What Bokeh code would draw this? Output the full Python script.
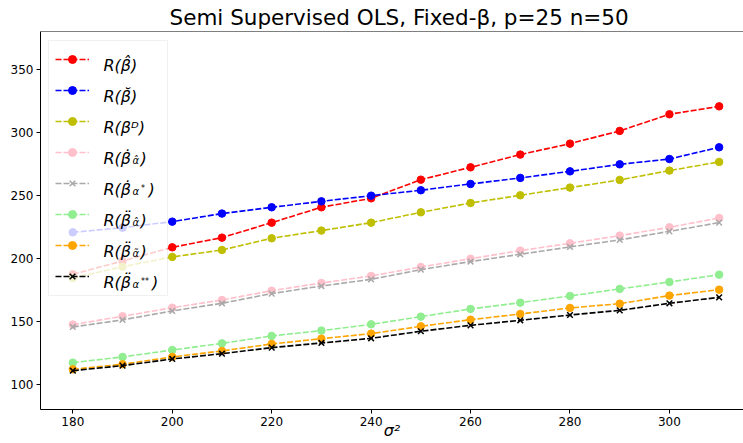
from bokeh.plotting import figure
from bokeh.models import Range1d, FixedTicker, Legend, LegendItem, Label, BoxAnnotation, Span
from bokeh.embed import file_html
from bokeh.resources import INLINE

# ---------------- data ----------------
sigma2 = [180, 190, 200, 210, 220, 230, 240, 250, 260, 270, 280, 290, 300, 310]

r_hat = [187.3, 197.9, 208.7, 216.4, 228.3, 240.5, 247.6, 262.4, 272.2, 282.3, 291.0, 301.1, 314.3, 320.6]
r_breve = [220.6, 224.3, 229.1, 235.5, 240.5, 245.2, 249.7, 254.0, 259.0, 263.8, 269.0, 274.6, 278.8, 288.1]
r_D = [184.4, 193.3, 201.1, 206.6, 215.9, 222.0, 228.3, 236.5, 243.9, 250.0, 256.1, 262.2, 269.6, 276.5]
r_dot_hat = [147.4, 154.0, 160.8, 166.9, 174.3, 180.4, 186.0, 193.1, 199.7, 206.1, 211.9, 218.0, 224.6, 232.0]
r_dot_star = [145.5, 151.1, 158.2, 164.3, 172.0, 178.0, 183.3, 191.0, 197.4, 203.2, 209.0, 214.6, 221.4, 228.3]
r_ddot_hat = [117.2, 121.7, 127.2, 132.5, 138.4, 142.6, 147.6, 153.7, 159.8, 164.8, 170.1, 175.7, 181.2, 187.0]
r_ddot_tilde = [111.9, 115.9, 121.7, 126.5, 132.0, 136.2, 140.2, 146.0, 151.3, 155.8, 160.6, 164.0, 170.4, 175.1]
r_ddot_star2 = [110.8, 114.8, 120.1, 124.3, 129.1, 132.8, 136.5, 142.1, 146.8, 150.8, 155.0, 158.7, 164.3, 169.0]

series_values = [r_hat, r_breve, r_D, r_dot_hat, r_dot_star, r_ddot_hat, r_ddot_tilde, r_ddot_star2]
series_colors = ["red", "blue", "#bfbf00", "pink", "darkgray", "lightgreen", "orange", "black"]
series_markers = ["circle", "circle", "circle", "circle", "x", "circle", "circle", "x"]

# legend labels: main part, subscript, superscript-on-subscript
legend_main = ["R(\u03b2\u0302)", "R(\u03b2\u0306)", "R(\u03b2\u1d30)",
               "R(\u03b2\u0307", "R(\u03b2\u0307", "R(\u03b2\u0308", "R(\u03b2\u0308", "R(\u03b2\u0308"]
legend_sub = ["", "", "", "\u03b1\u0302", "\u03b1", "\u03b1\u0302", "\u03b1\u0303", "\u03b1"]
legend_sup = ["", "", "", "", "*", "", "", "**"]

x_ticks = [180, 200, 220, 240, 260, 280, 300]
y_ticks = [100, 150, 200, 250, 300, 350]
y_top = 380

title_text = "Semi Supervised OLS, Fixed-\u03b2, p=25 n=50"
xlabel_text = "\u03c3\u00b2"

FONT = "DejaVu Sans"

# ---------------- figure ----------------
p = figure(width=743, height=443, output_backend="svg", toolbar_location=None,
           x_range=Range1d(173.5, 314.9), y_range=Range1d(80, y_top),
           min_border_left=40, min_border_right=0, min_border_top=31, min_border_bottom=34,
           title=title_text)
p.title.text_font = FONT
p.title.text_font_size = "21.5px"
p.title.text_font_style = "normal"
p.title.text_color = "black"
p.title.align = "left"
p.title.offset = 129
p.title.standoff = 4
p.background_fill_color = "white"
p.border_fill_color = "white"
p.outline_line_color = None
p.grid.visible = False

for ax in (p.xaxis[0], p.yaxis[0]):
    ax.axis_line_color = "black"
    ax.axis_line_width = 1
    ax.major_tick_line_color = "black"
    ax.major_tick_out = 4
    ax.major_tick_in = 0
    ax.minor_tick_line_color = None
    ax.major_label_text_font = FONT
    ax.major_label_text_font_size = "12px"
    ax.major_label_text_color = "black"
    ax.major_label_standoff = 3
p.xaxis[0].ticker = FixedTicker(ticks=x_ticks)
p.yaxis[0].ticker = FixedTicker(ticks=y_ticks)
p.xaxis[0].axis_label = xlabel_text
p.xaxis[0].axis_label_text_font = FONT
p.xaxis[0].axis_label_text_font_style = "italic"
p.xaxis[0].axis_label_text_font_size = "16px"
p.xaxis[0].axis_label_text_color = "black"
p.xaxis[0].axis_label_standoff = -8

# top spine (no right spine in the reference)
p.add_layout(Span(location=y_top, dimension="width", line_color="black", line_width=1.2))

items = []
for vals, col, mk in zip(series_values, series_colors, series_markers):
    lr = p.line(sigma2, vals, line_color=col, line_width=1.6, line_dash="6 2")
    if mk == "x":
        sr = p.scatter(sigma2, vals, marker="x", size=8, line_color=col, line_width=1.5)
    else:
        sr = p.scatter(sigma2, vals, marker="circle", size=7.5, fill_color=col, line_color=col)
    items.append(LegendItem(label=" ", renderers=[lr, sr]))

# legend frame drawn as a box so that the texts can sit on top of it
p.add_layout(BoxAnnotation(left=8, right=127, top=369, bottom=114,
                           left_units="screen", right_units="screen",
                           top_units="screen", bottom_units="screen",
                           fill_color="white", fill_alpha=0.8,
                           line_color="#cccccc", line_width=1, level="annotation"))

legend = Legend(items=items, location=(15, 123), margin=0, padding=0, spacing=11,
                label_height=20, glyph_height=20, glyph_width=34, label_standoff=12,
                label_width=53, label_text_font_size="13px",
                border_line_color=None, background_fill_alpha=0.0)
p.add_layout(legend)


def add_label(x, y, text, size, italic=True, align="left"):
    p.add_layout(Label(x=x, y=y, x_units="screen", y_units="screen", text=text,
                       text_font=FONT, text_font_style="italic" if italic else "normal",
                       text_font_size=size, text_baseline="alphabetic", text_align=align,
                       text_color="black", level="overlay"))


for i in range(len(legend_main)):
    yb = 344 - 31 * i
    add_label(63, yb, legend_main[i], "16px")
    if legend_sub[i]:
        add_label(92, yb - 2, legend_sub[i], "10px")
        close_x = 100
        if legend_sup[i]:
            add_label(100.5, yb + 1, legend_sup[i], "8px", italic=False)
            close_x = 108 if len(legend_sup[i]) == 1 else 111.5
        add_label(close_x, yb, ")", "16px")

open("out.html", "w").write(file_html(p, INLINE))
